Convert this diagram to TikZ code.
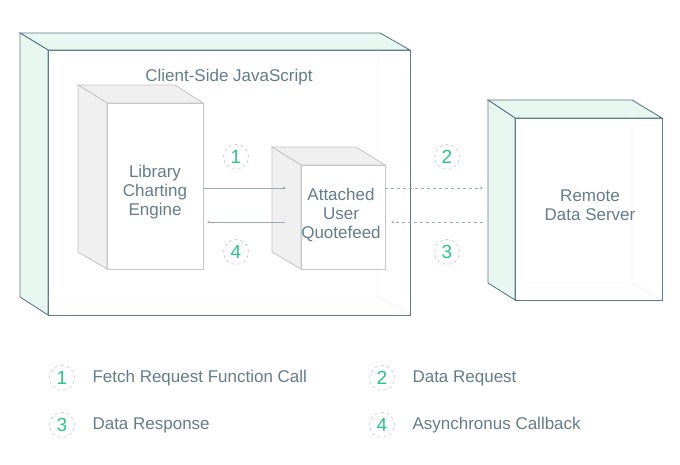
\documentclass[tikz,border=0pt]{standalone}
\usepackage{fontspec}
\setmainfont{Liberation Sans}
\definecolor{slate}{HTML}{5F7A89}
\definecolor{txt}{HTML}{637D8B}
\definecolor{grn}{HTML}{2BC58A}
\definecolor{mint}{HTML}{E8F8F0}
\definecolor{arrc}{HTML}{9AAAB6}
\begin{document}
\begin{tikzpicture}[x=1pt,y=-1pt,
  lbl/.style={text=txt,font=\fontsize{17}{19}\selectfont,align=center},
  num/.style={circle,draw=black!30,dashed,minimum size=25pt,inner sep=0pt,text=grn,font=\fontsize{19}{19}\selectfont},
  arr/.style={draw=arrc,->,>=stealth},
  gbox/.style={fill=black!6,draw=black!22,line width=0.9pt},
  fbox/.style={fill=white,draw=black!22,line width=0.9pt},
  gr/.style={fill=mint,draw=slate,line width=0.9pt}]
\useasboundingbox (0,0) rectangle (680,465);
% client
\draw[gr] (20,33)--(380,33)--(410,50)--(48,50)--cycle;
\draw[gr] (20,33)--(48,50)--(48,315)--(20,297)--cycle;
\draw[draw=slate,line width=0.9pt,fill=white] (48,50) rectangle (410,315);
\draw[black!8] (378,50)--(378,297)--(48,297) (378,297)--(410,315);
\node[lbl] (cl) at (229,77) {Client-Side JavaScript};
% remote
\draw[gr] (488,100)--(632,100)--(662,118)--(515,118)--cycle;
\draw[gr] (488,100)--(515,118)--(515,300)--(488,283)--cycle;
\draw[draw=slate,line width=0.9pt,fill=white] (515,118) rectangle (662,300);
\draw[black!8] (632,118)--(632,283)--(515,283) (632,283)--(662,300);
\node[lbl] (rs) at (590,205) {Remote\\Data Server};
% library
\draw[gbox] (78,85)--(175,85)--(203,103)--(107,103)--cycle;
\draw[gbox] (78,85)--(107,103)--(107,269)--(78,252)--cycle;
\draw[fbox] (107,103) rectangle (203,269);
\node[lbl] (lib) at (155,192) {Library\\Charting\\Engine};
% attached
\draw[gbox] (272,147)--(356,147)--(385,165)--(301,165)--cycle;
\draw[gbox] (272,147)--(301,165)--(301,269)--(272,252)--cycle;
\draw[fbox] (301,165) rectangle (385,269);
\node[lbl] (att) at (341,215) {Attached\\User\\Quotefeed};
% arrows
\coordinate (a1) at (203,188); \coordinate (b1) at (286,188);
\coordinate (a4) at (285,222); \coordinate (b4) at (207,222);
\coordinate (a2) at (385,188); \coordinate (b2) at (483,188);
\coordinate (a3) at (483,222); \coordinate (b3) at (391,222);
\draw[arr] (a1)--(b1);
\draw[arr] (a4)--(b4);
\draw[arr,dashed] (a2)--(b2);
\draw[arr,dashed] (a3)--(b3);
\node[num] (n1) at (236,157) {1};
\node[num] (n4) at (236,252) {4};
\node[num] (n2) at (447,157) {2};
\node[num] (n3) at (447,252) {3};
% legend
\node[num] (l1) at (62,378) {1};
\node[num] (l2) at (382,378) {2};
\node[num] (l3) at (62,425) {3};
\node[num] (l4) at (382,425) {4};
\node[lbl,anchor=west] (t1) at (89,378) {Fetch Request Function Call};
\node[lbl,anchor=west] (t2) at (409,378) {Data Request};
\node[lbl,anchor=west] (t3) at (89,425) {Data Response};
\node[lbl,anchor=west] (t4) at (409,425) {Asynchronus Callback};
\end{tikzpicture}
\end{document}
